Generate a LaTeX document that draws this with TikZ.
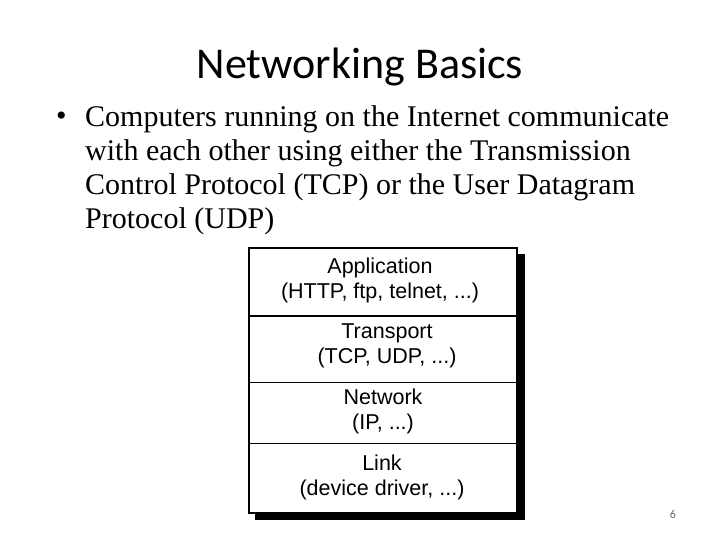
\documentclass[tikz,border=0pt]{standalone}
\usepackage{fontspec}
\setmainfont{Liberation Serif}
\newfontfamily\titlefont{Carlito}
\newfontfamily\diafont{Liberation Sans}
\begin{document}
\begin{tikzpicture}[x=1pt,y=-1pt,
  line/.style={anchor=west,inner sep=0pt,font=\fontsize{30}{34}\selectfont},
  lbl/.style={align=center,inner sep=0pt,font=\diafont\fontsize{21.5}{25}\selectfont}]
\useasboundingbox (0,0) rectangle (720,540);
\node[font=\titlefont\fontsize{44}{48}\selectfont] (title) at (360,67) {Networking Basics};
\node[line] (b) at (56,119) {•};
\node[line] (l1) at (85,119) {Computers running on the Internet communicate};
\node[line] (l2) at (85,153) {with each other using either the Transmission};
\node[line] (l3) at (85,187) {Control Protocol (TCP) or the User Datagram};
\node[line] (l4) at (85,221) {Protocol (UDP)};
\fill[black] (255,254) rectangle (525,520);
\draw[fill=white,line width=1.2pt] (249,248) rectangle (517,513);
\draw[line width=1.6pt] (249,316) -- (517,316);
\draw[line width=0.8pt] (249,382) -- (517,382);
\draw[line width=0.8pt] (249,443) -- (517,443);
\node[lbl] (app) at (380,280) {Application\\(HTTP, ftp, telnet, ...)};
\node[lbl] (tr) at (387,346) {Transport\\(TCP, UDP, ...)};
\node[lbl] (nw) at (383,411) {Network\\(IP, ...)};
\node[lbl] (lk) at (382,477) {Link\\(device driver, ...)};
\node[font=\titlefont\fontsize{12}{14}\selectfont,text=gray!80!black] (pg) at (673,514) {6};
\end{tikzpicture}
\end{document}
